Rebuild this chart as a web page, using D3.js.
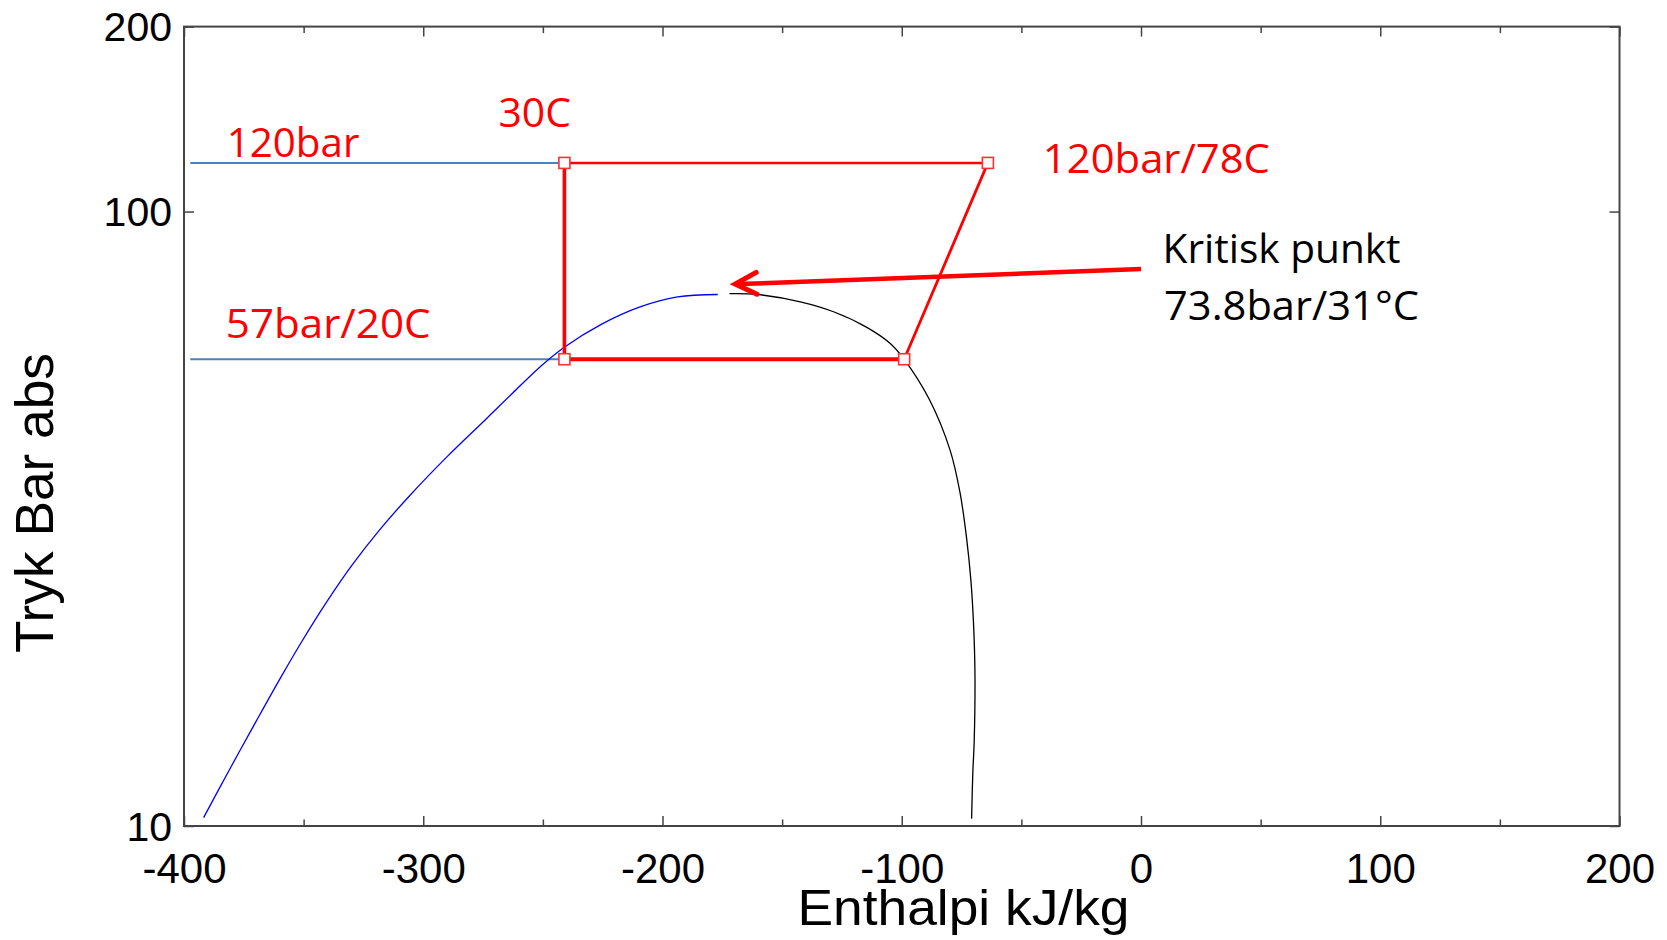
<!DOCTYPE html>
<html>
<head>
<meta charset="utf-8">
<script src="https://cdn.jsdelivr.net/npm/d3@7"></script>
<style>
  html, body { margin: 0; padding: 0; background: #fff; }
  svg { display: block; }
</style>
</head>
<body>
<svg id="chart" width="1667" height="940"></svg>
<script>
// ---------- data ----------
// saturated liquid line (blue)  : enthalpy kJ/kg, pressure bar
const liquidH = [-391.8, -380.9, -369.7, -359.3, -350.5, -340.9, -329.7, -318.5, -305.7, -289.7, -273.6, -262.5, -250.4, -240.9, -225.6, -209.7, -193.7, -176.9];
const liquidP = [10.32, 12.37, 14.84, 17.52, 20.04, 22.99, 26.60, 30.25, 34.48, 40.03, 46.02, 50.71, 56.21, 60.19, 65.51, 69.88, 72.62, 73.28];
// saturated vapour line (black)
const vaporH = [-172.0, -160.6, -142.4, -128.5, -114.6, -104.8, -99.3, -88.5, -79.8, -75.6, -72.8, -71.1, -70.0, -69.4, -69.7, -70.3, -70.8];
const vaporP = [73.5, 73.3, 71.3, 68.7, 64.8, 61.0, 57.7, 49.5, 40.9, 34.8, 29.2, 25.1, 21.35, 17.7, 13.8, 12.2, 10.28];
// CO2 cycle points (red)
const cycleH = [-241, -64, -99, -241];
const cycleP = [120, 120, 57.5, 57.5];
// reference pressure lines (light blue)
const refP = [120, 57.5];
const refStartH = -397.4;
// critical point arrow (tail -> tip)
const arrowH = [0, -169.6];
const arrowP = [80.6, 76.2];
// axis ticks
const xMajor = [-400, -300, -200, -100, 0, 100, 200];
const xMinor = [-350, -250, -150, -50, 50, 150];
const yTicks = [10, 100, 200];
// texts
const xTitle = "Enthalpi kJ/kg";
const yTitle = "Tryk Bar abs";
const cycleLabels = ["120bar", "30C", "57bar/20C", "120bar/78C"];
const critLabels = ["Kritisk punkt", "73.8bar/31°C"];

// ---------- layout ----------
const L = 184, R = 1619.5, T = 26.6, B = 826;
const svg = d3.select("#chart");
const x = d3.scaleLinear().domain([-400, 200]).range([L, R]);
const y = d3.scaleLog().domain([10, 200]).range([B, T]);

const axisColor = "#444";
const tickFont = "'Liberation Sans', Arial, sans-serif";
const noteFont = "'Open Sans', 'Noto Sans', sans-serif";
const plainFmt = d => String(d);

// ---------- axes (box with inward ticks) ----------
function styleAxis(g) {
  g.select(".domain").remove();
  g.selectAll(".tick line").attr("stroke", axisColor).attr("stroke-width", 1.5);
}
// bottom major
const gxB = svg.append("g").attr("transform", `translate(0,${B})`)
  .call(d3.axisBottom(x).tickValues(xMajor).tickSizeInner(-10).tickSizeOuter(0).tickFormat(plainFmt));
styleAxis(gxB);
gxB.selectAll(".tick text").attr("y", 57).attr("dy", 0)
  .attr("font-family", tickFont).attr("font-size", 42).attr("fill", "#000");
// bottom minor
const gxBm = svg.append("g").attr("transform", `translate(0,${B})`)
  .call(d3.axisBottom(x).tickValues(xMinor).tickSizeInner(-6.5).tickSizeOuter(0).tickFormat(""));
styleAxis(gxBm);
// top major & minor
const gxT = svg.append("g").attr("transform", `translate(0,${T})`)
  .call(d3.axisTop(x).tickValues(xMajor).tickSizeInner(-10).tickSizeOuter(0).tickFormat(""));
styleAxis(gxT);
const gxTm = svg.append("g").attr("transform", `translate(0,${T})`)
  .call(d3.axisTop(x).tickValues(xMinor).tickSizeInner(-6.5).tickSizeOuter(0).tickFormat(""));
styleAxis(gxTm);
// left
const gyL = svg.append("g").attr("transform", `translate(${L},0)`)
  .call(d3.axisLeft(y).tickValues(yTicks).tickSizeInner(-10).tickSizeOuter(0).tickFormat(plainFmt));
styleAxis(gyL);
gyL.selectAll(".tick text").attr("x", -12).attr("dy", 14)
  .attr("font-family", tickFont).attr("font-size", 41).attr("fill", "#000");
// right
const gyR = svg.append("g").attr("transform", `translate(${R},0)`)
  .call(d3.axisRight(y).tickValues(yTicks).tickSizeInner(-10).tickSizeOuter(0).tickFormat(""));
styleAxis(gyR);
// frame
svg.append("rect").attr("x", L).attr("y", T).attr("width", R - L).attr("height", B - T)
  .attr("fill", "none").attr("stroke", axisColor).attr("stroke-width", 2);

// axis titles
svg.append("text").attr("x", 963.5).attr("y", 925).attr("text-anchor", "middle")
  .attr("font-family", tickFont).attr("font-size", 50).attr("fill", "#000")
  .attr("textLength", 332).attr("lengthAdjust", "spacingAndGlyphs").text(xTitle);
svg.append("text").attr("transform", "translate(53,503) rotate(-90)").attr("text-anchor", "middle")
  .attr("font-family", tickFont).attr("font-size", 54).attr("fill", "#000")
  .attr("textLength", 300).attr("lengthAdjust", "spacingAndGlyphs").text(yTitle);

// ---------- reference lines ----------
svg.append("g").selectAll("line").data(refP).join("line")
  .attr("x1", x(refStartH)).attr("x2", x(cycleH[0]))
  .attr("y1", d => y(d)).attr("y2", d => y(d))
  .attr("stroke", "#4f81bd").attr("stroke-width", 2);

// ---------- saturation curves ----------
const line = d3.line().x(d => x(d[0])).y(d => y(d[1])).curve(d3.curveCatmullRom.alpha(0.5));
svg.append("path").datum(d3.zip(liquidH, liquidP)).attr("d", line)
  .attr("fill", "none").attr("stroke", "#0000ff").attr("stroke-width", 1.3);
svg.append("path").datum(d3.zip(vaporH, vaporP)).attr("d", line)
  .attr("fill", "none").attr("stroke", "#000").attr("stroke-width", 1.3);

// ---------- cycle ----------
const cyc = d3.zip(cycleH, cycleP);
const segWidths = [2.5, 2.8, 3.8, 3.6];
const segs = cyc.map((p, i) => [p, cyc[(i + 1) % cyc.length], segWidths[i]]);
svg.append("g").selectAll("line").data(segs).join("line")
  .attr("x1", d => x(d[0][0])).attr("y1", d => y(d[0][1]))
  .attr("x2", d => x(d[1][0])).attr("y2", d => y(d[1][1]))
  .attr("stroke", "#ff0000").attr("stroke-width", d => d[2]).attr("stroke-linecap", "round");
svg.append("g").selectAll("rect").data(cyc).join("rect")
  .attr("x", d => x(d[0]) - 5.5).attr("y", d => y(d[1]) - 5.5)
  .attr("width", 11).attr("height", 11)
  .attr("fill", "#fff").attr("stroke", "#ff3030").attr("stroke-width", 1.6);

// ---------- critical point arrow ----------
const ax0 = x(arrowH[0]), ay0 = y(arrowP[0]), ax1 = x(arrowH[1]), ay1 = y(arrowP[1]);
svg.append("line").attr("x1", ax0).attr("y1", ay0).attr("x2", ax1 + 3).attr("y2", ay1)
  .attr("stroke", "#ff0000").attr("stroke-width", 4.5);
const ang = Math.atan2(ay0 - ay1, ax0 - ax1);
const wl = 24, wa = 27 * Math.PI / 180;
const w1 = [ax1 + wl * Math.cos(ang - wa), ay1 + wl * Math.sin(ang - wa)];
const w2 = [ax1 + wl * Math.cos(ang + wa), ay1 + wl * Math.sin(ang + wa)];
svg.append("path").attr("d", `M${w1[0]},${w1[1]}L${ax1},${ay1}L${w2[0]},${w2[1]}`)
  .attr("fill", "none").attr("stroke", "#ff0000").attr("stroke-width", 5)
  .attr("stroke-linejoin", "miter").attr("stroke-linecap", "round");

// ---------- annotations ----------
function note(txt, px, py, len, color, anchor) {
  svg.append("text").attr("x", px).attr("y", py).attr("text-anchor", anchor || "start")
    .attr("font-family", noteFont).attr("font-size", 41).attr("fill", color)
    .attr("textLength", len).attr("lengthAdjust", "spacingAndGlyphs").text(txt);
}
note(cycleLabels[0], x(refStartH) + 36.5, y(cycleP[0]) - 6, 132.7, "#ff0000");
note(cycleLabels[1], x(cycleH[0]) - 66, y(cycleP[0]) - 36, 72.5, "#ff0000");
note(cycleLabels[2], x(refStartH) + 35.6, y(cycleP[3]) - 21.5, 204.7, "#ff0000");
note(cycleLabels[3], x(cycleH[1]) + 55, y(cycleP[1]) + 10.5, 227, "#ff0000");
note(critLabels[0], ax0 + 21.6, ay0 - 5.7, 238, "#000");
note(critLabels[1], ax0 + 23, ay0 + 51, 255, "#000");
</script>
</body>
</html>
